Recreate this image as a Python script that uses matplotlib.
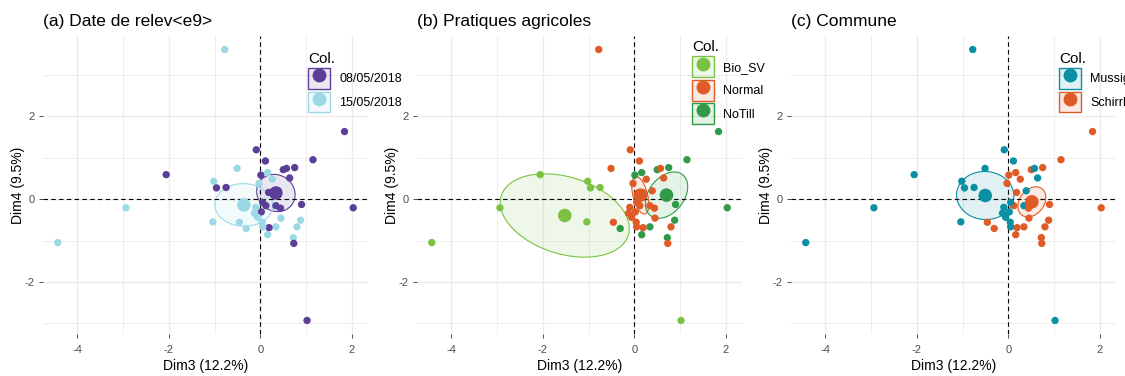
import numpy as np
import matplotlib
matplotlib.use("Agg")
import matplotlib.pyplot as plt
from matplotlib.patches import Patch, Polygon
from matplotlib.lines import Line2D
from matplotlib.legend_handler import HandlerTuple
from matplotlib.colors import to_rgba
from matplotlib.ticker import MultipleLocator

plt.rcParams['font.family'] = ['Liberation Sans', 'DejaVu Sans']
plt.rcParams['axes.unicode_minus'] = False

# Individual coordinates on PCA dimensions 3 and 4
dim3 = [-0.78, -2.94, -4.43, -2.06, 1.84, 2.03, 1.02, -1.02, -0.96, -0.75,
        -1.04, -0.51, -0.09, 0.11, 0.01, 0.16, 0.50, 0.57, 0.75, 1.15,
        0.26, 0.64, -0.03, 0.39, 0.18, 0.90, 0.45, 0.88, 0.80, 0.72,
        0.73, -0.46, -0.31, 0.34, 0.19, 0.16, 0.05, 0.04, 0.34, 0.44,
        0.12, 0.05, 0.02, -0.10, -0.13, -0.06]
dim4 = [3.61, -0.21, -1.05, 0.59, 1.63, -0.21, -2.93, 0.43, 0.27, 0.28,
        -0.55, 0.74, 1.19, 0.92, 0.58, 0.64, 0.71, 0.74, 0.76, 0.95,
        0.48, 0.51, 0.38, 0.20, 0.16, -0.13, -0.46, -0.51, -0.67, -0.93,
        -1.07, -0.56, -0.71, -0.67, -0.69, -0.86, -0.67, -0.56, -0.16, -0.22,
        -0.16, -0.08, -0.31, -0.20, -0.34, -0.44]

D1, D2 = '08/05/2018', '15/05/2018'
releve = [D2, D2, D2, D1, D1, D1, D1, D2, D1, D1,
          D2, D2, D1, D1, D1, D2, D1, D1, D1, D1,
          D2, D1, D2, D1, D1, D1, D2, D2, D2, D2,
          D1, D2, D2, D2, D1, D2, D2, D2, D1, D1,
          D1, D1, D1, D2, D2, D2]

B, N, T = 'Bio_SV', 'Normal', 'NoTill'
pratique = [N, B, B, B, T, T, B, B, B, B,
            B, N, N, N, T, T, T, N, T, T,
            N, N, N, N, N, T, N, T, N, T,
            N, N, T, T, N, T, N, N, N, N,
            N, N, N, N, N, N]

M, S = 'Mussig', 'Schirrhein'
commune = [M, M, M, M, S, S, M, M, M, M,
           M, M, M, M, S, S, S, M, S, S,
           S, M, S, M, S, S, S, S, S, S,
           S, S, S, S, S, S, M, M, M, S,
           S, M, M, M, M, M]

date_levels = [D1, D2]
date_colors = ['#5B3E97', '#9DD8E7']
prat_levels = [B, N, T]
prat_colors = ['#7BC243', '#E05A26', '#2F9A48']
comm_levels = [M, S]
comm_colors = ['#0A8FA3', '#E05A26']

titles = ['(a) Date de relev<e9>', '(b) Pratiques agricoles', '(c) Commune']
x_label = 'Dim3 (12.2%)'
y_label = 'Dim4 (9.5%)'

x = np.array(dim3)
y = np.array(dim4)


def conf_ellipse(xs, ys, level=0.95, npoints=100):
    """Confidence ellipse of the group barycentre."""
    cx, cy = xs.mean(), ys.mean()
    cov = np.cov(np.vstack([xs, ys])) / len(xs)
    sx, sy = np.sqrt(cov[0, 0]), np.sqrt(cov[1, 1])
    r = np.clip(cov[0, 1] / (sx * sy), -1, 1)
    d = np.arccos(r)
    t = np.sqrt(-2 * np.log(1 - level))
    a = np.linspace(0, 2 * np.pi, npoints)
    return np.column_stack([t * sx * np.cos(a + d / 2) + cx,
                            t * sy * np.cos(a - d / 2) + cy])


W, H = 1125, 376
fig = plt.figure(figsize=(W / 100, H / 100), dpi=100)

ax_left_px = [43, 417, 791]
legend_left_px = [308, 692, 1059]
ax_top_px, ax_bot_px = 36, 334

xr = x.max() - x.min()
yr = y.max() - y.min()
xlim = (x.min() - 0.05 * xr, x.max() + 0.05 * xr)
ylim = (y.min() - 0.05 * yr, y.max() + 0.05 * yr)

panels = [(releve, date_levels, date_colors),
          (pratique, prat_levels, prat_colors),
          (commune, comm_levels, comm_colors)]

grid_col = '#EBEBEB'

for i, (groups, levels, colors) in enumerate(panels):
    ax = fig.add_axes([ax_left_px[i] / W, 1 - ax_bot_px / H,
                       325 / W, (ax_bot_px - ax_top_px) / H])
    ax.set_xlim(*xlim)
    ax.set_ylim(*ylim)
    for sp in ax.spines.values():
        sp.set_visible(False)
    ax.xaxis.set_major_locator(MultipleLocator(2))
    ax.yaxis.set_major_locator(MultipleLocator(2))
    ax.xaxis.set_minor_locator(MultipleLocator(1))
    ax.yaxis.set_minor_locator(MultipleLocator(1))
    ax.grid(which='major', color=grid_col, lw=1.0, zorder=0)
    ax.grid(which='minor', color=grid_col, lw=0.6, zorder=0)
    ax.set_axisbelow(True)
    ax.tick_params(which='major', length=2.75, width=0.6, color='#333333',
                   labelsize=8, labelcolor='#4D4D4D', pad=3.5)
    ax.tick_params(axis='x', which='major', pad=5)
    ax.tick_params(which='minor', length=0)

    g = np.array(groups)
    cmap = dict(zip(levels, colors))

    # confidence ellipses
    for lev, col in zip(levels, colors):
        m = g == lev
        pts = conf_ellipse(x[m], y[m])
        ax.add_patch(Polygon(pts, closed=True, facecolor=to_rgba(col, 0.12),
                             edgecolor=col, lw=0.8, zorder=2))

    ax.axhline(0, color='black', lw=0.8, ls=(0, (4, 3)), zorder=3)
    ax.axvline(0, color='black', lw=0.8, ls=(0, (4, 3)), zorder=3)

    ax.scatter(x, y, c=[cmap[v] for v in groups], s=28, edgecolors='none',
               zorder=4)

    # group barycentres
    for lev, col in zip(levels, colors):
        m = g == lev
        ax.scatter([x[m].mean()], [y[m].mean()], color=col, s=95,
                   edgecolors='none', zorder=5)

    ax.set_xlabel(x_label, fontsize=10, labelpad=3)
    ax.set_ylabel(y_label, fontsize=10, labelpad=-0.5)
    ax.set_title(titles[i], loc='left', fontsize=12.5, pad=7)

    handles = []
    for lev, col in zip(levels, colors):
        box = Patch(facecolor=to_rgba(col, 0.12), edgecolor=col, linewidth=1.0)
        dot = Line2D([], [], marker='o', ls='none', color=col, markersize=9)
        handles.append((box, dot))
    ax.legend(handles, levels, title='Col.',
              handler_map={tuple: HandlerTuple(ndivide=1)},
              loc='center left',
              bbox_to_anchor=(legend_left_px[i] / W, 1 - 82 / H),
              bbox_transform=fig.transFigure, frameon=False,
              fontsize=9, title_fontsize=11, handlelength=1.75,
              handleheight=2.2, labelspacing=0.2, handletextpad=0.75,
              borderpad=0, borderaxespad=0, alignment='left')

fig.savefig('out.png', dpi=100, facecolor='white')
